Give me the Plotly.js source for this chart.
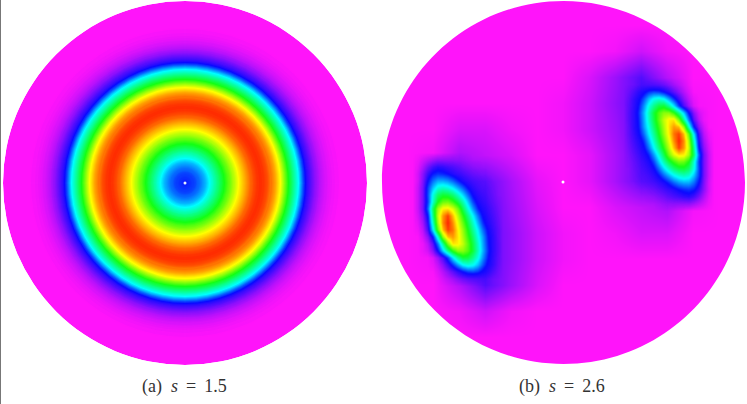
<!DOCTYPE html>
<html>
<head>
<meta charset="utf-8">
<script src="https://cdn.plot.ly/plotly-3.0.1.min.js"></script>
<style>
  html, body { margin: 0; padding: 0; background: #fff; }
  #chart { width: 747px; height: 404px; }
</style>
</head>
<body>
<div id="chart"></div>
<script>
// Panel (a): field value read along a radius, one entry per pixel from the centre out.
var radialProfileA = [
  .22,.22,.22,.225,.23,.23,.235,.24,.24,.245,.25,.26,.27,.275,.28,.29,.30,.31,.32,.33,
  .34,.355,.37,.385,.40,.415,.43,.44,.455,.47,.48,.495,.51,.52,.535,.55,.56,.575,.59,.60,
  .615,.63,.645,.66,.67,.685,.70,.715,.73,.74,.755,.77,.785,.80,.81,.82,.83,.84,.85,.86,
  .87,.88,.89,.90,.91,.92,.925,.93,.94,.945,.95,.955,.96,.96,.965,.965,.965,.96,.96,.955,
  .95,.945,.94,.93,.92,.91,.91,.90,.89,.88,.87,.855,.84,.825,.81,.80,.775,.75,.725,.70,
  .675,.65,.625,.60,.58,.56,.54,.52,.50,.48,.46,.44,.42,.40,.37,.34,.31,.28,.25,.225,
  .20,.185,.17,.16,.15,.14,.13,.12,.11,.10,.09,.085,.075,.07,.06,.055,.05,.045,.04,.035,
  .03,.03,.025,.02,.02,.015,.015,.01,.01,.01,.005,.005,.005,.005,0
];
var discRadiusA = 182;

// Panel (b): faint background field on a coarse grid.
var hazeX = [381,407,433,459,485,511,537,563,589,615,641,667,693,719,745];
var hazeY = [-1,25,51,77,103,129,155,181,207,233,259,285,311,337,363];
var hazeZ = [
  [0,0,0,0,0,0,0,0,0,0,0,0,0,0,0],
  [0,0,0,0,0,0,0,0,0,0,0,0,0,0,0],
  [0,0,0,0,0,0,0,0,0,.01,.04,.01,0,0,0],
  [0,0,0,0,0,0,0,0,.03,.08,.14,.06,0,0,0],
  [0,0,0,0,0,0,0,.01,.04,.09,.14,.1,.01,0,0],
  [0,0,0,.03,.03,.01,0,.01,.04,.08,.14,.1,.01,0,0],
  [0,0,.01,.07,.05,.03,0,0,.02,.07,.13,.1,.01,0,0],
  [0,0,.01,.1,.13,.07,.02,0,.02,.07,.13,.1,.01,0,0],
  [0,0,.01,.1,.14,.08,.03,0,0,.03,.05,.07,.01,0,0],
  [0,0,.01,.1,.14,.09,.04,.01,0,.01,.03,.03,0,0,0],
  [0,0,.01,.1,.14,.09,.04,.01,0,0,0,0,0,0,0],
  [0,0,0,.06,.14,.08,.03,0,0,0,0,0,0,0,0],
  [0,0,0,.01,.04,.01,0,0,0,0,0,0,0,0,0],
  [0,0,0,0,0,0,0,0,0,0,0,0,0,0,0],
  [0,0,0,0,0,0,0,0,0,0,0,0,0,0,0]
];

// Panel (b): upper right lobe.
var lobeRightX = [623,628,633,638,643,648,653,658,663,668,673,678,683,688,693,698,703,708,713];
var lobeRightY = [77,84,91,98,105,112,119,126,133,140,147,154,161,168,175,182,189,196,203,210];
var lobeRightZ = [
  [0,0,0,0,0,0,0,0,0,0,0,0,0,0,0,0,0,0,0],
  [0,0,0,.02,.05,.07,.08,.08,.07,.05,.03,.02,.01,0,0,0,0,0,0],
  [0,.02,.06,.12,.18,.23,.25,.24,.2,.15,.1,.06,.03,.01,0,0,0,0,0],
  [0,.04,.11,.18,.26,.35,.41,.43,.4,.32,.23,.14,.07,.03,.01,0,0,0,0],
  [0,.05,.12,.21,.31,.42,.5,.56,.57,.49,.38,.24,.13,.06,.02,0,0,0,0],
  [0,.06,.13,.23,.34,.46,.57,.65,.7,.7,.62,.5,.36,.2,.09,.03,.01,0,0],
  [0,.06,.13,.22,.33,.45,.56,.66,.75,.81,.82,.69,.49,.29,.13,.05,.01,0,0],
  [0,.05,.13,.21,.32,.42,.53,.63,.73,.82,.88,.85,.71,.44,.21,.09,.03,0,0],
  [0,.05,.11,.19,.28,.39,.49,.6,.71,.81,.91,.95,.85,.66,.38,.15,.05,.01,0],
  [0,.04,.09,.15,.23,.34,.45,.56,.67,.78,.89,.97,.89,.72,.45,.18,.07,.02,0],
  [0,.03,.07,.12,.19,.29,.4,.51,.62,.74,.85,.95,.88,.75,.5,.21,.09,.03,0],
  [0,.02,.05,.09,.15,.22,.32,.43,.55,.68,.77,.82,.81,.72,.53,.27,.11,.04,0],
  [0,.01,.03,.06,.11,.17,.25,.36,.47,.56,.63,.68,.67,.6,.44,.24,.11,.04,0],
  [0,0,.02,.04,.08,.13,.19,.28,.37,.45,.52,.56,.57,.53,.42,.25,.11,.04,0],
  [0,0,.01,.03,.05,.09,.14,.2,.27,.33,.39,.43,.45,.43,.35,.24,.11,.04,0],
  [0,0,0,.01,.03,.06,.09,.13,.17,.22,.27,.31,.33,.33,.28,.2,.1,.03,0],
  [0,0,0,0,.01,.03,.05,.08,.11,.14,.17,.2,.22,.23,.21,.16,.09,.03,0],
  [0,0,0,0,0,.01,.02,.04,.06,.09,.12,.14,.16,.17,.15,.11,.06,.02,0],
  [0,0,0,0,0,0,0,.01,.02,.03,.05,.06,.07,.08,.07,.05,.03,.01,0],
  [0,0,0,0,0,0,0,0,0,0,0,0,0,0,0,0,0,0,0]
];

// Panel (b): lower left lobe.
var lobeLeftX = [412,417,422,427,432,437,442,447,452,457,462,467,472,477,482,487,492,497,502];
var lobeLeftY = [152,159,166,173,180,187,194,201,208,215,222,229,236,243,250,257,264,271,278,285];
var lobeLeftZ = [
  [0,0,0,0,0,0,0,0,0,0,0,0,0,0,0,0,0,0,0],
  [0,.01,.03,.05,.07,.08,.07,.06,.05,.03,.02,.01,0,0,0,0,0,0,0],
  [0,.02,.06,.11,.15,.17,.16,.14,.12,.09,.06,.04,.02,.01,0,0,0,0,0],
  [0,.03,.09,.16,.21,.23,.22,.2,.17,.14,.11,.08,.05,.03,.01,0,0,0,0],
  [0,.03,.1,.2,.28,.33,.33,.31,.27,.22,.17,.13,.09,.06,.03,.01,0,0,0],
  [0,.04,.11,.24,.35,.43,.45,.43,.39,.33,.27,.2,.14,.09,.05,.03,.01,0,0],
  [0,.04,.11,.25,.42,.53,.57,.56,.52,.45,.37,.28,.19,.13,.08,.04,.02,0,0],
  [0,.04,.11,.24,.44,.6,.67,.68,.63,.56,.47,.36,.25,.17,.11,.06,.03,.01,0],
  [0,.04,.11,.27,.53,.72,.81,.82,.77,.68,.55,.43,.32,.22,.15,.09,.05,.02,0],
  [0,.03,.09,.21,.5,.75,.88,.95,.85,.74,.62,.51,.4,.29,.19,.12,.07,.03,0],
  [0,.02,.07,.18,.45,.72,.89,.97,.89,.78,.67,.56,.45,.34,.23,.15,.09,.04,0],
  [0,.01,.05,.15,.38,.66,.85,.95,.91,.81,.71,.6,.49,.39,.28,.19,.11,.05,0],
  [0,0,.03,.09,.21,.44,.71,.85,.88,.82,.73,.63,.53,.42,.32,.21,.13,.05,0],
  [0,0,.01,.05,.13,.29,.49,.69,.82,.81,.75,.66,.56,.45,.33,.22,.13,.06,0],
  [0,0,.01,.03,.09,.2,.36,.5,.62,.7,.7,.65,.57,.46,.34,.23,.13,.06,0],
  [0,0,0,0,.02,.06,.13,.24,.38,.49,.57,.56,.5,.42,.31,.21,.12,.05,0],
  [0,0,0,0,.01,.03,.07,.14,.23,.32,.4,.43,.41,.35,.26,.18,.11,.04,0],
  [0,0,0,0,0,.01,.03,.06,.1,.15,.2,.24,.25,.23,.18,.12,.06,.02,0],
  [0,0,0,0,0,0,.01,.02,.03,.05,.07,.08,.08,.07,.05,.02,0,0,0],
  [0,0,0,0,0,0,0,0,0,0,0,0,0,0,0,0,0,0,0]
];

var captionA = "(a)  <i>s</i>\u2009 = \u20091.5";
var captionB = "(b)  <i>s</i>\u2009 = \u20092.6";

var W = 747;
var H = 404;
var MAGENTA = "rgb(255,20,250)";

var SCALE = [
  [0, MAGENTA],
  [0.2, "rgb(10,10,255)"],
  [0.4, "rgb(0,255,255)"],
  [0.6, "rgb(20,255,20)"],
  [0.8, "rgb(255,255,0)"],
  [1, "rgb(255,0,0)"]
];
// Same ramp for the lobe patches, but blue fading to nothing at zero: over magenta
// that gives the same colours, and it sits on the haze without a seam.
var SCALE_FADE = [
  [0, "rgba(10,10,255,0)"],
  [0.2, "rgba(10,10,255,1)"],
  [0.4, "rgba(0,255,255,1)"],
  [0.6, "rgba(20,255,20,1)"],
  [0.8, "rgba(255,255,0,1)"],
  [1, "rgba(255,0,0,1)"]
];

// Outside of disc (b) is painted white: a box with a round hole (evenodd fill).
function maskPath(cx, cy, r) {
  var k = 0.5523 * r;
  return "M367.5,-20 L770,-20 L770,380 L367.5,380 Z" +
    " M" + (cx - r) + "," + cy +
    " C" + (cx - r) + "," + (cy - k) + " " + (cx - k) + "," + (cy - r) + " " + cx + "," + (cy - r) +
    " C" + (cx + k) + "," + (cy - r) + " " + (cx + r) + "," + (cy - k) + " " + (cx + r) + "," + cy +
    " C" + (cx + r) + "," + (cy + k) + " " + (cx + k) + "," + (cy + r) + " " + cx + "," + (cy + r) +
    " C" + (cx - k) + "," + (cy + r) + " " + (cx - r) + "," + (cy + k) + " " + (cx - r) + "," + cy + " Z";
}

function fieldTrace(x, y, z, scale) {
  return {
    type: "heatmap",
    x: x,
    y: y,
    z: z,
    zmin: 0,
    zmax: 1,
    zsmooth: "best",
    colorscale: scale,
    showscale: false,
    hoverinfo: "skip"
  };
}

// Rings of panel (a), widest first, each one a full disc painted over the last.
var ringR = [discRadiusA];
var ringV = [0];
for (var i = radialProfileA.length - 1; i >= 0; i--) {
  ringR.push(i + 1);
  ringV.push(radialProfileA[i]);
}

var traces = [
  {
    type: "barpolar",
    r: ringR,
    theta: ringR.map(function () { return 0; }),
    width: ringR.map(function () { return 360; }),
    marker: { color: ringV, cmin: 0, cmax: 1, colorscale: SCALE, showscale: false, line: { width: 0 } },
    hoverinfo: "skip",
    subplot: "polar"
  },
  {
    type: "scatterpolar",
    mode: "markers",
    r: [0],
    theta: [0],
    marker: { color: "#e8f0ff", size: 3 },
    hoverinfo: "skip",
    subplot: "polar"
  },
  fieldTrace(hazeX, hazeY, hazeZ, SCALE),
  fieldTrace(lobeRightX, lobeRightY, lobeRightZ, SCALE_FADE),
  fieldTrace(lobeLeftX, lobeLeftY, lobeLeftZ, SCALE_FADE),
  {
    type: "scatter",
    mode: "markers",
    x: [563],
    y: [182],
    marker: { color: "#ffffff", size: 3 },
    hoverinfo: "skip"
  }
];

var captionFont = { family: "'Liberation Serif', serif", size: 18, color: "#333" };

var layout = {
  width: W,
  height: H,
  margin: { l: 0, r: 0, t: 0, b: 0 },
  paper_bgcolor: "#fff",
  plot_bgcolor: "#fff",
  showlegend: false,
  xaxis: { range: [0, W], visible: false, domain: [0, 1] },
  yaxis: { range: [H, 0], visible: false, domain: [0, 1] },
  polar: {
    barmode: "overlay",
    domain: { x: [3 / W, 367 / W], y: [(H - 365) / H, (H - 1) / H] },
    bgcolor: "rgba(0,0,0,0)",
    radialaxis: { visible: false, range: [0, discRadiusA] },
    angularaxis: { visible: false }
  },
  shapes: [
    { type: "path", xref: "x", yref: "y", path: maskPath(563.5, 182.5, 181.5), fillcolor: "#fff", line: { width: 0 }, layer: "above" },
    { type: "line", xref: "x", yref: "y", x0: 0.5, x1: 0.5, y0: 0, y1: H, line: { color: "#777", width: 1 }, layer: "above" }
  ],
  annotations: [
    { xref: "x", yref: "y", x: 184, y: 386, text: captionA, showarrow: false, font: captionFont },
    { xref: "x", yref: "y", x: 562, y: 386, text: captionB, showarrow: false, font: captionFont }
  ]
};

Plotly.newPlot("chart", traces, layout, { displayModeBar: false, staticPlot: true });
</script>
</body>
</html>
